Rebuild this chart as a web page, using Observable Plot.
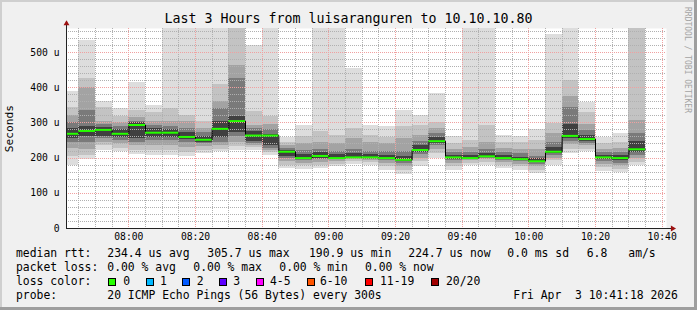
<!DOCTYPE html>
<html><head><meta charset="utf-8">
<script src="https://cdn.jsdelivr.net/npm/d3@7"></script>
<script src="https://cdn.jsdelivr.net/npm/@observablehq/plot@0.6"></script>
<style>
html,body{margin:0;padding:0;background:#f0f0f0;}
#wrap{position:relative;width:697px;height:310px;background:#f0f0f0;overflow:hidden;font-family:"DejaVu Sans Mono",monospace;}
#wrap svg{position:absolute;left:0;top:0;}
.t{position:absolute;white-space:pre;line-height:1;color:#000;}
.box{position:absolute;width:6px;height:6px;border:1px solid #000;}
</style></head><body><div id="wrap"></div>
<script>
// ---- data (values in microseconds) ----
const title = "Last 3 Hours from luisaranguren to 10.10.10.80";
const startTime = "07:41:18", endTime = "10:41:18";
const barEnd = ["07:45","07:50","07:55","08:00","08:05","08:10","08:15","08:20","08:25","08:30",
  "08:35","08:40","08:45","08:50","08:55","09:00","09:05","09:10","09:15","09:20",
  "09:25","09:30","09:35","09:40","09:45","09:50","09:55","10:00","10:05","10:10",
  "10:15","10:20","10:25","10:30","10:35"];
const median = [269,277,280,269,294,272,272,260,252,283,305,264,264,218,200,206,200,202,202,200,195,223,248,202,200,205,200,197,191,218,263,254,202,200,225];
const lo1 = [178,195,222,218,210,206,206,204,213,218,222,222,208,171,168,170,175,183,180,165,152,175,200,166,180,180,170,166,155,180,213,218,161,158,180];
const hi1 = [390,535,362,341,416,350,600,600,600,600,600,521,600,258,293,600,600,454,293,289,336,320,383,260,600,600,263,262,282,551,600,358,258,270,600];
const lo2 = [205,208,235,228,222,222,222,215,222,225,232,230,215,180,178,178,182,190,188,175,165,190,212,175,186,188,180,175,165,192,225,225,172,168,188];
const hi2 = [345,425,345,318,335,330,340,322,303,410,600,331,317,245,260,275,265,285,265,258,290,293,300,240,250,293,245,245,250,298,421,330,240,245,600];
const lo3 = [228,225,245,240,235,237,237,230,232,235,245,237,222,190,186,188,190,195,193,185,175,200,225,185,192,195,188,183,175,200,238,235,182,178,198];
const hi3 = [320,400,305,300,315,305,305,303,285,360,462,293,295,235,240,245,240,255,245,240,255,265,285,225,230,245,228,225,225,270,374,295,225,228,308];
const lo4 = [245,245,255,250,245,250,250,245,240,245,262,242,228,198,192,195,195,198,197,192,185,210,235,192,196,200,194,190,183,207,248,242,190,186,208];
const hi4 = [300,335,295,290,305,292,290,285,272,340,427,285,280,228,222,225,220,225,220,220,220,248,270,215,215,225,215,212,205,245,345,278,215,215,270];
const lo5 = [255,262,262,258,255,258,258,252,245,258,272,248,235,205,196,200,198,200,199,196,190,215,240,196,198,202,197,194,187,212,255,248,195,192,215];
const hi5 = [285,290,288,280,300,285,282,272,262,305,318,275,268,222,210,215,210,212,210,208,205,235,258,208,207,213,206,203,198,230,295,265,208,207,248];
const xTickLabels = ["08:00","08:20","08:40","09:00","09:20","09:40","10:00","10:20","10:40"];
const yTickValues = [0,100,200,300,400,500];
const yTickLabels = ["0","100 u","200 u","300 u","400 u","500 u"];
const yMax = 568;
const rttLine = ["median rtt:","234.4 us avg","305.7 us max","190.9 us min","224.7 us now","0.0 ms sd","6.8","am/s"];
const lossLine = ["packet loss:","0.00 % avg","0.00 % max","0.00 % min","0.00 % now"];
const lossLabels = ["0","1","2","3","4-5","6-10","11-19","20/20"];
const lossColors = ["#26ff00","#00b8ff","#0059ff","#5e00ff","#ff00ff","#ff5500","#ff0000","#a10000"];
const probeLine = ["probe:","20 ICMP Echo Pings (56 Bytes) every 300s","Fri Apr  3 10:41:18 2026"];

// ---- build ----
const T = s => { const [h,m,sec] = s.split(":").map(Number); return new Date(Date.UTC(2026,3,3,h,m,sec||0)); };
const x0 = T(startTime), x1 = T(endTime);
const bars = barEnd.map((e,i) => ({x1: new Date(Math.max(+T(e) - 300000, +x0)), x2: T(e), med: median[i]}));
const levelColors = ["#dddddd","#c3c3c3","#a3a3a3","#7a7a7a","#404040"];
const levels = [[lo1,hi1],[lo2,hi2],[lo3,hi3],[lo4,hi4],[lo5,hi5]];
const smoke = levels.flatMap(([lo,hi],k) => bars.map((b,i) => ({x1:b.x1, x2:b.x2, y1:lo[i], y2:hi[i], c:levelColors[k]})));
const stepPts = bars.map(b => ({x:b.x1, y:b.med})).concat([{x:bars[bars.length-1].x2, y:bars[bars.length-1].med}]);

const majorX = xTickLabels.map(T);
const minorX = d3.utcMinute.every(5).range(x0, x1).filter(d => !majorX.some(m => +m === +d));
const minorY = d3.range(20, yMax, 20).filter(v => v % 100 !== 0);
const majorY = yTickValues.filter(v => v > 0);
const fmt = d3.utcFormat("%H:%M");

const chart = Plot.plot({
  width: 697, height: 310,
  marginLeft: 66, marginRight: 31, marginTop: 28, marginBottom: 82,
  style: {background: "transparent", fontFamily: "'DejaVu Sans Mono', monospace", fontSize: "9.7px", color: "#000", overflow: "visible"},
  x: {type: "utc", domain: [x0, x1]},
  y: {domain: [0, yMax]},
  color: {type: "identity"},
  marks: [
    Plot.frame({fill: "#ffffff", stroke: null}),
    Plot.rect(smoke, {x1: "x1", x2: "x2", y1: "y1", y2: "y2", fill: "c", clip: true, shapeRendering: "crispEdges"}),
    Plot.ruleX(minorX, {stroke: "#b0b0b0", strokeDasharray: "1,1", shapeRendering: "crispEdges"}),
    Plot.ruleY(minorY, {stroke: "#b0b0b0", strokeDasharray: "1,1", shapeRendering: "crispEdges"}),
    Plot.ruleX(majorX, {stroke: "#f0a0a0", strokeDasharray: "1,1", shapeRendering: "crispEdges"}),
    Plot.ruleY(majorY, {stroke: "#f0a0a0", strokeDasharray: "1,1", shapeRendering: "crispEdges"}),
    Plot.line(stepPts, {x: "x", y: "y", curve: "step-after", stroke: "#000", strokeWidth: 1}),
    Plot.ruleY(bars, {y: "med", x1: "x1", x2: "x2", stroke: lossColors[0], strokeWidth: 2}),
    Plot.axisX(majorX, {tickSize: 0, tickPadding: 5, tickFormat: d => xTickLabels[xTickLabels.indexOf(fmt(d))], fontSize: 9.7}),
    Plot.axisY(yTickValues, {tickSize: 0, tickPadding: 7, tickFormat: d => yTickLabels[yTickValues.indexOf(d)], label: null, fontSize: 9.7}),
    Plot.ruleY([0], {x1: x0, x2: new Date(+x1 + 110000), stroke: "#222"}),
    Plot.ruleX([x0], {y1: 0, y2: 583, stroke: "#222"}),
    Plot.dot([0], {x: () => x0, y: () => 582, symbol: "triangle", r: 2.2, fill: "#9c1010", stroke: "none"}),
    Plot.dot([0], {x: () => new Date(+x1 + 110000), y: () => 0, symbol: "triangle", r: 2.2, rotate: 90, fill: "#9c1010", stroke: "none"})
  ]
});
const wrap = document.getElementById("wrap");
wrap.appendChild(chart);

function txt(s, x, baseline, fs, extra) {
  const d = document.createElement("div");
  d.className = "t";
  d.textContent = s;
  d.style.fontSize = fs + "px";
  d.style.left = x + "px";
  d.style.top = (baseline - 0.846 * fs) + "px";
  if (extra) Object.assign(d.style, extra);
  wrap.appendChild(d);
  return d;
}
// title
txt(title, 0, 23, 13.3, {width: "697px", textAlign: "center"});
// y label
txt("Seconds", -40, 128 + 4, 11.2, {width: "100px", textAlign: "center", transform: "rotate(-90deg)", transformOrigin: "50% 50%"});
// watermark
txt("RRDTOOL / TOBI OETIKER", 687 - 60, 60 + 3, 8, {width: "120px", textAlign: "center", color: "#a4a4a4", transform: "rotate(90deg)", transformOrigin: "50% 50%"});
// legend
const FS = 11.4;
const rttX = [16, 107.3, 207.3, 309, 408.3, 507.3, 586.7, 628.3];
rttLine.forEach((s,i) => txt(s, rttX[i], 257.5, FS));
const lossX = [16, 107.3, 193.3, 279.3, 365];
lossLine.forEach((s,i) => txt(s, lossX[i], 271.5, FS));
txt("loss color:", 16, 285.5, FS);
const boxX = [108.3,145.7,182.3,219,256,306.7,365,430.7];
const labX = [123.3,160,196.7,233.3,270,320,380,446];
lossLabels.forEach((s,i) => {
  const b = document.createElement("div");
  b.className = "box";
  b.style.left = boxX[i] + "px"; b.style.top = "277.5px"; b.style.background = lossColors[i];
  wrap.appendChild(b);
  txt(s, labX[i], 285.5, FS);
});
const probeX = [16, 107.3, 513.3];
probeLine.forEach((s,i) => txt(s, probeX[i], 299.5, FS));
// frame shading
[["0px","0px","697px","2px","#cfcfcf"],["0px","0px","2px","310px","#cfcfcf"],
 ["0px","307px","697px","3px","#9e9e9e"],["694px","0px","3px","310px","#9e9e9e"]].forEach(([l,t,w,h,c]) => {
  const d = document.createElement("div");
  Object.assign(d.style, {position:"absolute", left:l, top:t, width:w, height:h, background:c});
  wrap.appendChild(d);
});
</script></body></html>
